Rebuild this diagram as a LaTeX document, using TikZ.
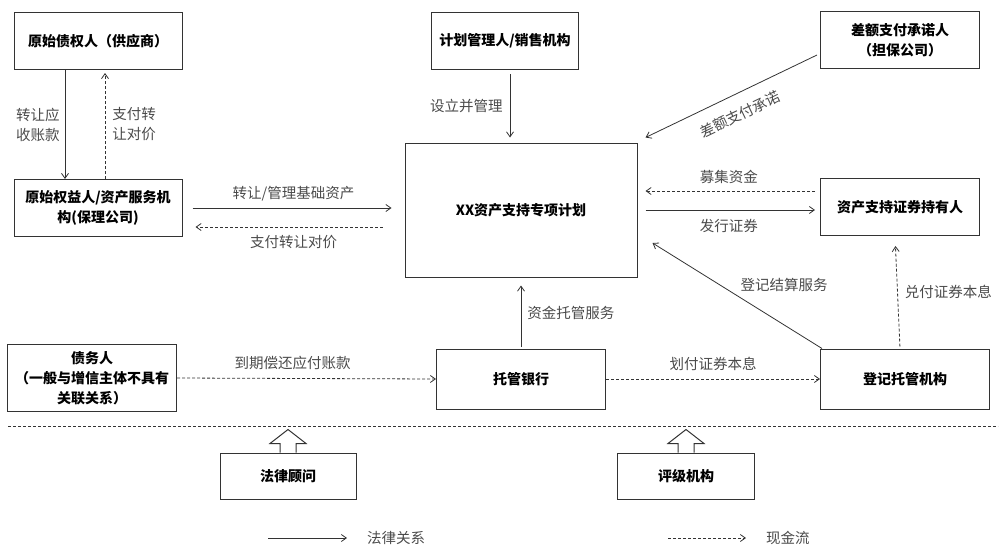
\documentclass[tikz,border=0pt]{standalone}
\usepackage{fontspec}
\setmainfont{Noto Sans CJK SC}
\usetikzlibrary{arrows.meta}

\definecolor{lineclr}{HTML}{333333}
\definecolor{lblclr}{HTML}{4A4A4A}

\tikzset{
  box/.style={draw=lineclr, line width=1pt, fill=white, align=center, inner sep=2pt,
              font=\fontsize{14}{20}\selectfont\bfseries},
  lbl/.style={text=lblclr, align=center, inner sep=1pt, font=\fontsize{14.5}{20}\selectfont},
  legal/.style={draw=lineclr, line width=0.8pt, -{Straight Barb[length=5pt, width=7pt]}},
  cash/.style={draw=lineclr, line width=0.8pt, dash pattern=on 3pt off 2pt,
               -{Straight Barb[length=5pt, width=7pt]}},
  blockup/.style={draw=lineclr, line width=1pt, fill=white}
}

\begin{document}
\begin{tikzpicture}[x=1pt, y=-1pt]

\useasboundingbox (0,0) rectangle (1000,554);

% Define the parties of the scheme
\node[box, minimum width=168pt, minimum height=57pt] (orig) at (98,41) {原始债权人（供应商）};
\node[box, minimum width=168pt, minimum height=57pt, text width=160pt] (seller) at (98,208) {原始权益人/资产服务机\\构(保理公司)};
\node[box, minimum width=147pt, minimum height=57pt] (mgr) at (505,41) {计划管理人/销售机构};
\node[box, minimum width=159pt, minimum height=57pt] (guar) at (900,40) {差额支付承诺人\\（担保公司）};
\node[box, minimum width=232pt, minimum height=134pt] (plan) at (521,210) {XX资产支持专项计划};
\node[box, minimum width=159pt, minimum height=57pt] (holder) at (900,207) {资产支持证券持有人};
\node[box, minimum width=169pt, minimum height=67pt, text width=165pt] (debtor) at (92,378) {债务人\\（一般与增信主体不具有\\关联关系）};
\node[box, minimum width=169pt, minimum height=60pt] (bank) at (521,379) {托管银行};
\node[box, minimum width=169pt, minimum height=60pt] (depo) at (905,379) {登记托管机构};
\node[box, minimum width=136pt, minimum height=46pt] (lawyer) at (288,476) {法律顾问};
\node[box, minimum width=137pt, minimum height=46pt] (rating) at (686,476) {评级机构};

% Draw the legal relations
\draw[legal] ([xshift=-33pt]orig.south) -- ([xshift=-33pt]seller.north)
  node[midway, left=4pt, lbl] {转让应\\收账款};
\draw[legal, shorten <=10pt, shorten >=13pt] (seller.east) -- (seller.east -| plan.west)
  node[midway, above=6pt, lbl] {转让/管理基础资产};
\draw[legal, shorten <=4pt, shorten >=5pt] ([xshift=5pt]mgr.south) -- ([xshift=-11pt]plan.north)
  node[midway, left=6pt, lbl] {设立并管理};
\draw[legal] ([xshift=-3pt, yshift=-15pt]guar.west) -- ([xshift=8pt, yshift=5pt]plan.north east)
  node[midway, sloped, below=12pt, lbl] {差额支付承诺};
\draw[legal, shorten <=8pt, shorten >=5pt] (plan.east) -- ([yshift=-3pt]holder.west)
  node[midway, below=8pt, lbl] {发行证券};
\draw[legal] ([xshift=2pt]depo.north west) -- ([xshift=15pt, yshift=-33pt]plan.east)
  node[pos=0.5, anchor=south west, xshift=2pt, yshift=3pt, lbl] {登记结算服务};
\draw[legal, shorten <=2pt, shorten >=8pt] (bank.north) -- (plan.south)
  node[midway, right=5pt, lbl] {资金托管服务};

% Draw the cash flows
\draw[cash, shorten >=3pt] ([xshift=7pt]seller.north) -- ([xshift=7pt]orig.south)
  node[midway, right=6pt, lbl] {支付转\\让对价};
\draw[cash, shorten <=22pt, shorten >=13pt] ([yshift=-17pt]plan.west) -- ([yshift=-19pt]seller.east)
  node[midway, below=7pt, lbl] {支付转让对价};
\draw[cash, shorten <=5pt, shorten >=8pt] ([yshift=16pt]holder.west) -- ([yshift=19pt]plan.east)
  node[midway, above=6pt, lbl] {募集资金};
\draw[cash, shorten <=2pt, shorten >=10pt] ([xshift=-5pt]depo.north) -- ([xshift=-5pt]holder.south)
  node[midway, right=6pt, lbl] {兑付证券本息};
\draw[cash] (debtor.east) -- (bank.west)
  node[midway, above=7pt, xshift=-14pt, lbl] {到期偿还应付账款};
\draw[cash] (bank.east) -- (depo.west)
  node[midway, above=7pt, lbl] {划付证券本息};

% Separate the service providers
\coordinate (sepL) at (8,426);
\coordinate (sepR) at (998,426);
\draw[lineclr, line width=1pt, dash pattern=on 3pt off 2pt] (sepL) -- (sepR);

% Open block arrows of the service providers
\foreach \who in {lawyer, rating} {
  \draw[blockup] ([xshift=-8pt]\who.north) -- ++(0,-9) -- ++(-10,0) -- ++(18,-14)
    -- ++(18,14) -- ++(-10,0) -- ++(0,9);
}

% Legend
\node[lbl, anchor=west] (legLegal) at (366,538) {法律关系};
\node[lbl, anchor=west] (legCash) at (765,538) {现金流};
\coordinate (legLegalA) at (268,538);
\coordinate (legCashA) at (668,538);
\draw[legal, shorten >=19pt] (legLegalA) -- (legLegal.west);
\draw[cash, shorten >=19pt] (legCashA) -- (legCash.west);

\end{tikzpicture}
\end{document}
